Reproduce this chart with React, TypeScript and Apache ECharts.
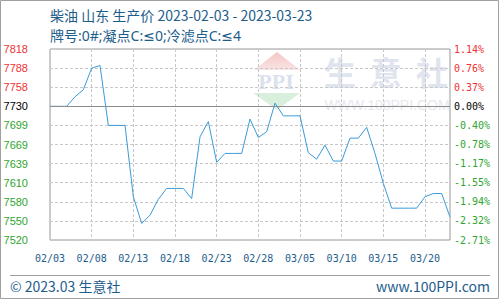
import React, { useEffect, useRef } from "react";
import * as echarts from "echarts";

// Daily dates, 2023-02-03 .. 2023-03-23
const DATES = [
  "02/03", "02/04", "02/05", "02/06", "02/07", "02/08", "02/09", "02/10", "02/11", "02/12",
  "02/13", "02/14", "02/15", "02/16", "02/17", "02/18", "02/19", "02/20", "02/21", "02/22",
  "02/23", "02/24", "02/25", "02/26", "02/27", "02/28", "03/01", "03/02", "03/03", "03/04",
  "03/05", "03/06", "03/07", "03/08", "03/09", "03/10", "03/11", "03/12", "03/13", "03/14",
  "03/15", "03/16", "03/17", "03/18", "03/19", "03/20", "03/21", "03/22", "03/23",
];

// Diesel ex-factory price, Shandong (yuan/ton)
const PRICES = [
  7730, 7730, 7730, 7745, 7756, 7790, 7794, 7700, 7700, 7700,
  7588, 7546, 7559, 7584, 7601, 7601, 7601, 7585, 7682, 7706,
  7642, 7656, 7656, 7656, 7710, 7681, 7690, 7735, 7715, 7715,
  7715, 7657, 7647, 7669, 7644, 7644, 7680, 7680, 7697, 7656,
  7609, 7570, 7570, 7570, 7570, 7588, 7593, 7593, 7556,
];

const BASE_PRICE = 7730;

// Tick labels, bottom to top
const PRICE_TICKS = ["7520", "7550", "7580", "7610", "7639", "7669", "7699", "7730", "7758", "7788", "7818"];
const PERCENT_TICKS = ["-2.71%", "-2.32%", "-1.94%", "-1.55%", "-1.17%", "-0.78%", "-0.40%", "0.00%", "0.37%", "0.76%", "1.14%"];
const BASE_TICK = 7;

// Axis in price offset from the base price
const Y_STEP = 30;
const Y_MIN = -BASE_TICK * Y_STEP;
const Y_MAX = (PRICE_TICKS.length - 1 - BASE_TICK) * Y_STEP;

const TITLE = "柴油 山东 生产价 2023-02-03 - 2023-03-23";
const SUBTITLE = "牌号:0#;凝点C:≤0;冷滤点C:≤4";
const FOOTER_LEFT = "© 2023.03 生意社";
const FOOTER_RIGHT = "www.100PPI.com";

const BLUE_TEXT = "#1d5d8c";
const CJK = '"Noto Sans CJK SC", "Noto Sans", sans-serif';
const MIXED = '"Noto Sans", "DejaVu Sans", "Noto Sans CJK SC", sans-serif';
const MONO = '"DejaVu Sans Mono", monospace';

function tickIndex(v: number): number {
  return Math.round((v - Y_MIN) / Y_STEP);
}

function tickClass(i: number): string {
  return i > BASE_TICK ? "up" : i === BASE_TICK ? "flat" : "down";
}

function richFor(fontFamily: string, fontSize: number) {
  return {
    up: { color: "#ee3333", fontFamily, fontSize },
    flat: { color: "#000000", fontFamily, fontSize },
    down: { color: "#2fa52f", fontFamily, fontSize },
  };
}

export default function App() {
  const ref = useRef<HTMLDivElement>(null);

  useEffect(() => {
    document.body.style.margin = "0";
    if (!ref.current) return;
    const chart = echarts.init(ref.current, undefined, { renderer: "svg" });

    const watermark = [
      {
        type: "polygon",
        z: -10,
        silent: true,
        shape: { points: [[254, 70], [277, 52], [300, 70]] },
        style: {
          fill: new echarts.graphic.LinearGradient(0, 0, 0, 1, [
            { offset: 0, color: "#f4c6c6" },
            { offset: 1, color: "#fae4e4" },
          ]),
        },
      },
      {
        type: "text",
        z: -10,
        silent: true,
        x: 276,
        y: 81,
        style: {
          text: "PPI",
          fill: "#dbe1ee",
          font: 'bold 22px "Liberation Serif", serif',
          align: "center",
          verticalAlign: "middle",
        },
      },
      {
        type: "polygon",
        z: -10,
        silent: true,
        shape: { points: [[253, 93], [300, 93], [277, 110]] },
        style: { fill: "#d8efdd" },
      },
      ...["生", "意", "社"].map((ch, i) => ({
        type: "text",
        z: -10,
        silent: true,
        x: 340 + i * 46,
        y: 71,
        style: {
          text: ch,
          fill: "#e0e4ee",
          font: `bold 32px ${CJK}`,
          align: "center",
          verticalAlign: "middle",
        },
      })),
      {
        type: "text",
        z: -10,
        silent: true,
        x: 387,
        y: 105,
        style: {
          text: "WWW.100PPI.COM",
          fill: "#e6e8ee",
          font: '14px "Liberation Sans", sans-serif',
          align: "center",
          verticalAlign: "middle",
        },
      },
    ];

    const frame = [
      {
        type: "rect",
        silent: true,
        shape: { x: 0.5, y: 0.5, width: 498, height: 298 },
        style: { fill: "none", stroke: "#a0a0a0", lineWidth: 1 },
      },
      {
        type: "line",
        silent: true,
        shape: { x1: 10, y1: 275.5, x2: 490, y2: 275.5 },
        style: { stroke: "#a0a0a0", lineWidth: 1 },
      },
      {
        type: "text",
        silent: true,
        x: 50,
        y: 15,
        style: { text: TITLE, fill: BLUE_TEXT, font: `14px ${CJK}`, verticalAlign: "middle" },
      },
      {
        type: "text",
        silent: true,
        x: 50,
        y: 35,
        style: { text: SUBTITLE, fill: BLUE_TEXT, font: `14px ${MIXED}`, verticalAlign: "middle" },
      },
      {
        type: "text",
        silent: true,
        x: 10,
        y: 286,
        style: { text: FOOTER_LEFT, fill: BLUE_TEXT, font: `14px ${CJK}`, verticalAlign: "middle" },
      },
      {
        type: "text",
        silent: true,
        x: 490,
        y: 286,
        style: {
          text: FOOTER_RIGHT,
          fill: BLUE_TEXT,
          font: `14px ${CJK}`,
          align: "right",
          verticalAlign: "middle",
        },
      },
    ];

    chart.setOption({
      animation: false,
      backgroundColor: "#ffffff",
      grid: {
        left: 50,
        right: 50,
        top: 49,
        bottom: 60,
        show: true,
        borderColor: "#999999",
        borderWidth: 1,
        backgroundColor: "transparent",
      },
      graphic: [...watermark, ...frame],
      xAxis: {
        type: "category",
        data: DATES,
        boundaryGap: false,
        axisLine: { show: false },
        axisTick: { show: false },
        axisLabel: {
          interval: 4,
          margin: 13,
          color: BLUE_TEXT,
          fontFamily: MONO,
          fontSize: 10,
        },
        splitLine: {
          show: true,
          interval: 4,
          lineStyle: { color: "#c8c8c8", type: [3, 2], width: 1 },
        },
      },
      yAxis: [
        {
          type: "value",
          position: "left",
          min: Y_MIN,
          max: Y_MAX,
          interval: Y_STEP,
          axisLine: { show: false },
          axisTick: { show: false },
          splitLine: { show: true, lineStyle: { color: "#c8c8c8", type: [3, 2], width: 1 } },
          axisLabel: {
            margin: 22,
            formatter: (v: number) => {
              const i = tickIndex(v);
              return `{${tickClass(i)}|${PRICE_TICKS[i]}}`;
            },
            rich: richFor('"Liberation Sans", sans-serif', 11),
          },
        },
        {
          type: "value",
          position: "right",
          min: Y_MIN,
          max: Y_MAX,
          interval: Y_STEP,
          axisLine: { show: false },
          axisTick: { show: false },
          splitLine: { show: false },
          axisLabel: {
            margin: 4,
            formatter: (v: number) => {
              const i = tickIndex(v);
              return `{${tickClass(i)}|${PERCENT_TICKS[i]}}`;
            },
            rich: richFor(MONO, 10),
          },
        },
      ],
      series: [
        {
          type: "line",
          yAxisIndex: 0,
          data: PRICES.map((p) => p - BASE_PRICE),
          showSymbol: false,
          symbol: "none",
          lineStyle: { color: "#3b9ad9", width: 1 },
          itemStyle: { color: "#3b9ad9" },
          markLine: {
            silent: true,
            symbol: "none",
            label: { show: false },
            lineStyle: { color: "#8c8c8c", type: "solid", width: 1 },
            data: [{ yAxis: 0 }],
          },
        },
      ],
    });

    return () => chart.dispose();
  }, []);

  return <div ref={ref} style={{ width: 500, height: 300 }} />;
}
